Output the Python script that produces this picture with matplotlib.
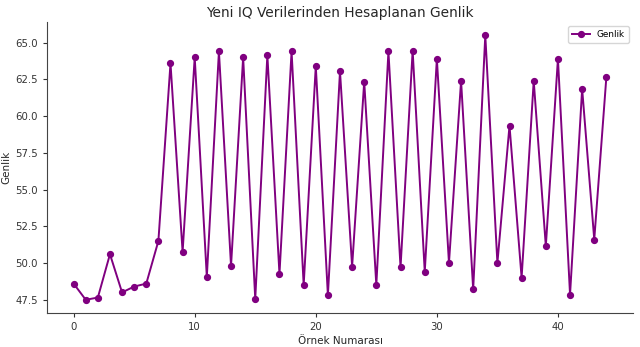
import matplotlib
matplotlib.use("Agg")
import matplotlib.pyplot as plt
import numpy as np

#----------------------------------------------------------------------------------------#
# data

sample_no = np.arange(45)

genlik = [48.6, 47.5, 47.65, 50.6, 48.0, 48.4, 48.6, 51.5, 63.6, 50.75,
          64.0, 49.05, 64.4, 49.8, 64.0, 47.55, 64.15, 49.25, 64.4, 48.5,
          63.4, 47.8, 63.05, 49.75, 62.35, 48.5, 64.4, 49.7, 64.45, 49.4,
          63.9, 50.0, 62.4, 48.2, 65.5, 50.0, 59.35, 49.0, 62.4, 51.15,
          63.9, 47.85, 61.85, 51.6, 62.65]

#----------------------------------------------------------------------------------------#

fig, ax = plt.subplots(figsize=(6.4, 3.47), dpi=100)
fig.subplots_adjust(left=47/640, right=633/640, top=1-22/347, bottom=1-313/347)

ax.plot(sample_no, genlik, color='purple', marker='o', markersize=4.2,
        linewidth=1.4, label='Genlik')

ax.set_title('Yeni IQ Verilerinden Hesaplanan Genlik', fontsize=9.9,
             color='#262626', pad=3.5)
ax.set_xlabel('Örnek Numarası', fontsize=7.5, color='#262626', labelpad=3)
ax.set_ylabel('Genlik', fontsize=7.5, color='#262626', labelpad=3)

ax.set_yticks(np.arange(47.5, 65.1, 2.5))
ax.tick_params(labelsize=7.3, colors='#333333', length=3, width=0.8)
for s in ['left', 'bottom']:
    ax.spines[s].set_color('#444444')
ax.spines['top'].set_visible(False)
ax.spines['right'].set_visible(False)

ax.legend(loc='upper right', fontsize=6.4)

plt.savefig("out.png")
